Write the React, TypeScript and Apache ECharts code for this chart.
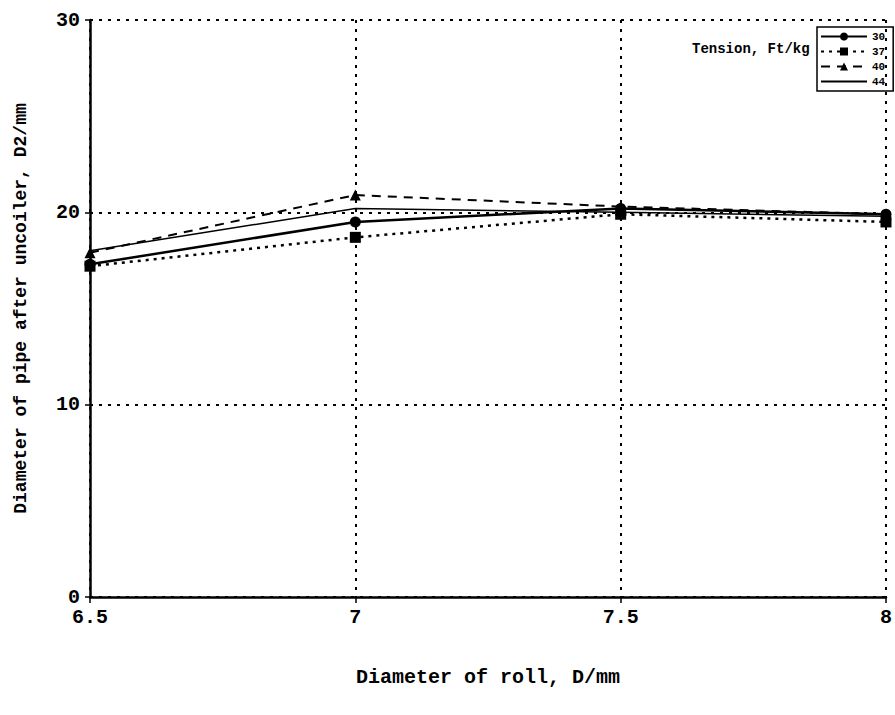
import React, { useEffect, useRef } from "react";
import * as echarts from "echarts";

const xValues = [6.5, 7, 7.5, 8];
const seriesNames = ["30", "37", "40", "44"];
const s30 = [17.3, 19.5, 20.2, 19.9];
const s37 = [17.2, 18.7, 19.9, 19.5];
const s40 = [17.9, 20.9, 20.3, 19.9];
const s44 = [18.0, 20.2, 20.0, 19.8];
const yTicks = [0, 10, 20, 30];
const xTitle = "Diameter of roll, D/mm";
const yTitle = "Diameter of pipe after uncoiler, D2/mm";
const legendTitle = "Tension, Ft/kg";

const FONT = "Liberation Mono";

export default function App() {
  const ref = useRef<HTMLDivElement>(null);
  useEffect(() => {
    document.body.style.margin = "0";
    const chart = echarts.init(ref.current!, null, { renderer: "svg" });
    const toPairs = (arr: number[]) => xValues.map((x, i) => [x, arr[i]]);
    const styles = [
      { data: s30, symbol: "circle", size: 11, line: { type: "solid", width: 2.5 } },
      { data: s37, symbol: "rect", size: 11, line: { type: [3, 5], width: 2.5 } },
      { data: s40, symbol: "triangle", size: 11, line: { type: [9, 7], width: 2 } },
      { data: s44, symbol: "none", size: 0, line: { type: "solid", width: 1.5 } },
    ];
    chart.setOption({
      animation: false,
      backgroundColor: "#ffffff",
      textStyle: { fontFamily: FONT, fontWeight: "bold", color: "#000" },
      grid: { left: 90, right: 5, top: 20, bottom: 118 },
      legend: {
        data: seriesNames.map((n, i) =>
          styles[i].symbol === "none" ? { name: n, itemStyle: { opacity: 0 } } : { name: n }
        ),
        orient: "vertical",
        left: 817,
        top: 27,
        itemWidth: 46,
        itemHeight: 10,
        itemGap: 4,
        padding: [4, 8, 4, 3],
        borderColor: "#000",
        borderWidth: 1.5,
        textStyle: { fontFamily: FONT, fontWeight: "bold", fontSize: 11, color: "#000" },
      },
      graphic: [
        {
          type: "text",
          left: 692,
          top: 42,
          style: { text: legendTitle, font: `bold 14px '${FONT}'`, fill: "#000" },
        },
      ],
      xAxis: {
        type: "value",
        min: 6.5,
        max: 8,
        interval: 0.5,
        name: xTitle,
        nameLocation: "middle",
        nameGap: 70,
        nameTextStyle: { fontFamily: FONT, fontWeight: "bold", fontSize: 20, color: "#000" },
        axisLine: { show: true, lineStyle: { color: "#000", width: 2.5 } },
        axisTick: { show: true, length: 6, lineStyle: { color: "#000", width: 1.5 } },
        axisLabel: {
          fontFamily: FONT,
          fontWeight: "bold",
          fontSize: 20,
          color: "#000",
          margin: 10,
          formatter: (v: number) => String(v),
        },
        splitLine: { show: true, lineStyle: { color: "#000", type: [3, 6], width: 2 } },
      },
      yAxis: {
        type: "value",
        min: 0,
        max: 30,
        interval: 10,
        name: yTitle,
        nameLocation: "middle",
        nameGap: 60,
        nameTextStyle: { fontFamily: FONT, fontWeight: "bold", fontSize: 18, color: "#000" },
        axisLine: { show: true, lineStyle: { color: "#000", width: 2.5 } },
        axisTick: { show: true, length: 5, lineStyle: { color: "#000", width: 1.5 } },
        axisLabel: {
          fontFamily: FONT,
          fontWeight: "bold",
          fontSize: 20,
          color: "#000",
          margin: 10,
          formatter: (v: number) => (yTicks.includes(v) ? String(v) : ""),
        },
        splitLine: { show: true, lineStyle: { color: "#000", type: [3, 6], width: 2 } },
      },
      series: styles.map((s, i) => ({
        name: seriesNames[i],
        type: "line",
        data: toPairs(s.data),
        symbol: s.symbol,
        symbolSize: s.size,
        showSymbol: s.symbol !== "none",
        itemStyle: { color: "#000" },
        lineStyle: { color: "#000", type: s.line.type, width: s.line.width },
        z: 5,
      })),
    });
    return () => chart.dispose();
  }, []);
  return <div ref={ref} style={{ width: 895, height: 715 }} />;
}
